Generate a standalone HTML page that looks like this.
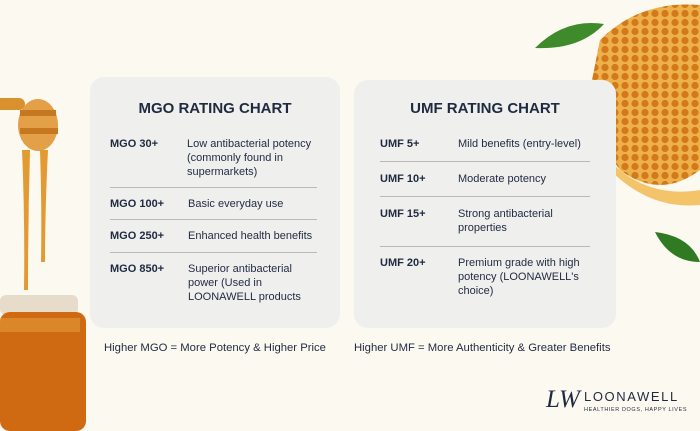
<!DOCTYPE html>
<html><head><style>
body{margin:0;width:700px;height:431px;background:#fcf9f1;position:relative;overflow:hidden;font-family:"Liberation Sans",sans-serif;color:#1f2a40}
.a{position:absolute;white-space:nowrap;font-size:11px;line-height:14px}
.b{font-weight:bold}
.card{position:absolute;background:#efefed;border-radius:14px}
.ln{position:absolute;height:1px;background:#b9b9b9}
.t{position:absolute;font-weight:bold;font-size:15px;text-align:center}
</style></head><body>
<svg style="position:absolute;left:0;top:0" width="700" height="431">
<defs><pattern id="hc" width="10" height="9" patternUnits="userSpaceOnUse"><rect width="10" height="9" fill="#eeb04a"/><circle cx="5" cy="4.5" r="3.6" fill="#d27a1a"/></pattern></defs>
<path d="M600 40 Q640 0 700 5 L700 170 Q660 200 620 170 Q590 130 590 90 Z" fill="url(#hc)"/>
<path d="M600 150 Q640 200 700 190 L700 205 Q650 210 610 170Z" fill="#f3c46a"/>
<path d="M535 48 Q565 18 604 24 Q580 50 535 48Z" fill="#3f8a2a"/>
<path d="M655 232 Q690 236 700 262 Q670 262 655 232Z" fill="#2f7a22"/>
<rect x="-5" y="98" width="30" height="12" rx="6" fill="#d9902f"/>
<ellipse cx="38" cy="125" rx="20" ry="26" fill="#e4a047"/>
<rect x="20" y="110" width="36" height="6" fill="#c57820"/>
<rect x="20" y="128" width="38" height="6" fill="#c57820"/>
<path d="M22 150 Q25 220 24 290 L28 290 Q28 220 30 150Z" fill="#e39a33"/>
<path d="M40 150 Q42 210 41 262 L45 262 Q45 210 48 150Z" fill="#e39a33"/>
<rect x="0" y="295" width="78" height="20" rx="6" fill="#e6dcc9"/>
<rect x="0" y="312" width="86" height="119" rx="10" fill="#d06a12"/>
<rect x="0" y="318" width="80" height="14" fill="#e59a3a" opacity=".6"/>
</svg>
<div class="card" style="left:90px;top:77px;width:250px;height:251px"></div>
<div class="card" style="left:354px;top:80px;width:262px;height:248px"></div>
<div class="t" style="left:90px;top:100px;width:250px">MGO RATING CHART</div>
<div class="t" style="left:354px;top:100px;width:262px">UMF RATING CHART</div>
<div class="a b" style="left:110px;top:137px">MGO 30+</div>
<div class="a" style="left:187px;top:137px">Low antibacterial potency<br>(commonly found in<br>supermarkets)</div>
<div class="ln" style="left:110px;top:187px;width:207px"></div>
<div class="a b" style="left:110px;top:197px">MGO 100+</div>
<div class="a" style="left:188px;top:197px">Basic everyday use</div>
<div class="ln" style="left:110px;top:219px;width:207px"></div>
<div class="a b" style="left:110px;top:229px">MGO 250+</div>
<div class="a" style="left:188px;top:229px">Enhanced health benefits</div>
<div class="ln" style="left:110px;top:252px;width:207px"></div>
<div class="a b" style="left:110px;top:262px">MGO 850+</div>
<div class="a" style="left:188px;top:262px">Superior antibacterial<br>power (Used in<br>LOONAWELL products</div>

<div class="a b" style="left:380px;top:137px">UMF 5+</div>
<div class="a" style="left:458px;top:137px">Mild benefits (entry-level)</div>
<div class="ln" style="left:380px;top:161px;width:210px"></div>
<div class="a b" style="left:380px;top:172px">UMF 10+</div>
<div class="a" style="left:458px;top:172px">Moderate potency</div>
<div class="ln" style="left:380px;top:196px;width:210px"></div>
<div class="a b" style="left:380px;top:207px">UMF 15+</div>
<div class="a" style="left:458px;top:207px">Strong antibacterial<br>properties</div>
<div class="ln" style="left:380px;top:246px;width:210px"></div>
<div class="a b" style="left:380px;top:256px">UMF 20+</div>
<div class="a" style="left:458px;top:256px">Premium grade with high<br>potency (LOONAWELL's<br>choice)</div>

<div class="a" style="left:104px;top:341px;font-size:11.3px">Higher MGO = More Potency &amp; Higher Price</div>
<div class="a" style="left:354px;top:341px;font-size:11.3px">Higher UMF = More Authenticity &amp; Greater Benefits</div>

<div class="a" style="left:546px;top:386px;font-family:'Liberation Serif',serif;font-style:italic;font-size:25px;line-height:28px">LW</div>
<div class="a" style="left:584px;top:389px;font-size:13px;letter-spacing:1.6px;line-height:16px">LOONAWELL</div>
<div class="a" style="left:584px;top:406px;font-size:5.5px;letter-spacing:0.6px;line-height:8px">HEALTHIER DOGS, HAPPY LIVES</div>
</body></html>
